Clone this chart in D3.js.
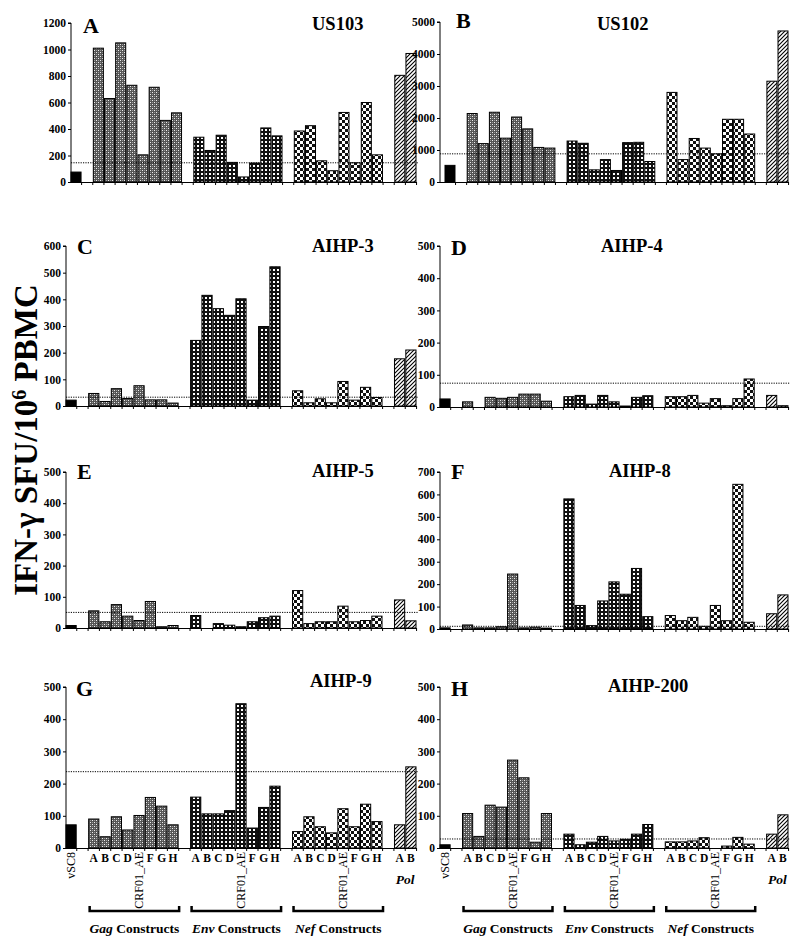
<!DOCTYPE html>
<html><head><meta charset="utf-8">
<script src="https://cdn.jsdelivr.net/npm/d3@7"></script>
<style>body{margin:0;background:#fff} svg{display:block}</style>
</head><body>
<svg id="chart" width="800" height="945"></svg>
<script>
// ---------------- DATA ----------------
const donors = ["US103","US102","AIHP-3","AIHP-4","AIHP-5","AIHP-8","AIHP-9","AIHP-200"];
const panelLetters = ["A","B","C","D","E","F","G","H"];
const constructs = ["A","B","C","D","CRF01_AE","F","G","H"];
const polLabels = ["A","B"];
const groupNames = ["Gag","Env","Nef"];
const yMax = [1200,5000,600,500,500,700,500,500];
const yStep = [200,1000,100,100,100,100,100,100];
const thresholds = [145,880,33,74,50,12,237,28];
const vSC8 = [75,520,22,25,8,5,72,10];
const gag = [
  [1010,630,1050,730,205,715,465,522],
  [2140,1200,2180,1370,2030,1660,1080,1060],
  [47,17,65,28,76,23,23,11],
  [16,0,30,27,30,40,40,18],
  [55,20,75,38,24,85,4,8],
  [18,5,5,10,245,5,8,4],
  [90,35,97,56,101,157,130,72],
  [107,36,133,127,273,218,18,107]
];
const env = [
  [338,238,353,148,38,143,408,348],
  [1280,1210,380,700,360,1230,1240,640],
  [246,415,365,340,402,22,298,522],
  [32,36,9,36,16,3,30,35],
  [40,0,14,9,4,20,33,38],
  [580,105,15,125,210,155,270,55],
  [158,106,106,116,448,62,126,192],
  [43,10,18,36,22,27,43,73]
];
const nef = [
  [385,425,160,85,525,145,600,205],
  [2800,700,1360,1060,880,1960,1960,1500],
  [57,12,27,12,92,22,70,32],
  [32,32,36,12,26,4,26,87],
  [120,14,20,20,70,20,24,38],
  [60,37,52,12,105,37,645,30],
  [51,97,66,47,122,66,136,82],
  [19,19,22,32,0,6,33,12]
];
const pol = [
  [805,970],[3150,4720],[177,210],[36,4],[90,23],[68,152],[72,252],[43,103]
];

// ---------------- LAYOUT ----------------
const layout = [
  {ax:71, x0:71, x1:416, yb:182, yt:23, lx:83, ly:33, tx:312, ty:30},
  {ax:440,x0:445,x1:788, yb:182, yt:22, lx:456,ly:28, tx:597, ty:30},
  {ax:66, x0:66, x1:416, yb:406, yt:246,lx:77, ly:254,tx:312, ty:252},
  {ax:440,x0:440,x1:788, yb:407, yt:246,lx:451,ly:255,tx:601, ty:252},
  {ax:66, x0:66, x1:416, yb:628, yt:472,lx:77, ly:479,tx:312, ty:477},
  {ax:440,x0:440,x1:788, yb:629, yt:472,lx:451,ly:479,tx:609, ty:477},
  {ax:66, x0:66, x1:416, yb:848, yt:687,lx:76, ly:696,tx:310, ty:687},
  {ax:440,x0:440,x1:788, yb:848, yt:687,lx:451,ly:696,tx:608, ty:692}
];
const serif = "'Liberation Serif','Times New Roman',Times,serif";

const svg = d3.select("#chart");
const defs = svg.append("defs");

function pat(id, w, h, draw){
  const p = defs.append("pattern").attr("id",id).attr("patternUnits","userSpaceOnUse")
    .attr("width",w).attr("height",h);
  draw(p);
}
pat("pGag",4,4,p=>{
  p.append("rect").attr("width",4).attr("height",4).attr("fill","#555");
  p.append("rect").attr("x",0).attr("y",0).attr("width",1).attr("height",1).attr("fill","#eee");
  p.append("rect").attr("x",2).attr("y",2).attr("width",1).attr("height",1).attr("fill","#eee");
  p.append("rect").attr("x",2).attr("y",0).attr("width",1).attr("height",1).attr("fill","#999");
  p.append("rect").attr("x",0).attr("y",2).attr("width",1).attr("height",1).attr("fill","#999");
});
pat("pEnv",4,4,p=>{
  p.append("rect").attr("width",4).attr("height",4).attr("fill","#111");
  p.append("rect").attr("x",1).attr("y",1).attr("width",2).attr("height",2).attr("fill","#fff");
});
pat("pNef",6,6,p=>{
  p.append("rect").attr("width",6).attr("height",6).attr("fill","#fff");
  p.append("rect").attr("x",0).attr("y",0).attr("width",3).attr("height",3).attr("fill","#111");
  p.append("rect").attr("x",3).attr("y",3).attr("width",3).attr("height",3).attr("fill","#111");
});
pat("pPol",4,4,p=>{
  p.append("rect").attr("width",4).attr("height",4).attr("fill","#fff");
  p.append("path").attr("d","M0,4 L4,0 M-1,1 L1,-1 M3,5 L5,3").attr("stroke","#000").attr("stroke-width",1.1);
});
const fills = {vsc:"#000", gag:"url(#pGag)", env:"url(#pEnv)", nef:"url(#pNef)", pol:"url(#pPol)"};

const slotKeys = ["vSC8","_g1"]
  .concat(constructs.map(c=>"Gag "+c)).concat(["_g2"])
  .concat(constructs.map(c=>"Env "+c)).concat(["_g3"])
  .concat(constructs.map(c=>"Nef "+c)).concat(["_g4"])
  .concat(polLabels.map(c=>"Pol "+c));

donors.forEach((name,i)=>{
  const L = layout[i];
  const g = svg.append("g");
  const x = d3.scaleBand().domain(slotKeys).range([L.x0, L.x1]).paddingInner(0.1).paddingOuter(0);
  const y = d3.scaleLinear().domain([0,yMax[i]]).range([L.yb, L.yt]);
  const bars = [{k:"vSC8", v:vSC8[i], t:"vsc"}]
    .concat(gag[i].map((v,j)=>({k:"Gag "+constructs[j], v, t:"gag"})))
    .concat(env[i].map((v,j)=>({k:"Env "+constructs[j], v, t:"env"})))
    .concat(nef[i].map((v,j)=>({k:"Nef "+constructs[j], v, t:"nef"})))
    .concat(pol[i].map((v,j)=>({k:"Pol "+polLabels[j], v, t:"pol"})));

  g.selectAll("rect.bar").data(bars.filter(d=>d.v>0)).join("rect").attr("class","bar")
    .attr("x",d=>x(d.k)).attr("width",x.bandwidth())
    .attr("y",d=>y(d.v)).attr("height",d=>y(0)-y(d.v))
    .attr("fill",d=>fills[d.t]).attr("stroke","#000").attr("stroke-width",1);

  const ya = d3.axisLeft(y).tickValues(d3.range(0,yMax[i]+1,yStep[i])).tickSize(3).tickPadding(2).tickFormat(d3.format("d"));
  const yg = g.append("g").attr("transform",`translate(${L.ax},0)`).call(ya);
  yg.select(".domain").attr("stroke","#000").attr("d",`M-3,${y(yMax[i])}H0V${y(0)}`);
  yg.selectAll("text").attr("font-family",serif).attr("font-weight","bold").attr("font-size",11.5).attr("fill","#000");
  yg.selectAll("line").attr("stroke","#000");

  g.append("line").attr("x1",L.ax).attr("x2",L.x1+1).attr("y1",y(0)+0.5).attr("y2",y(0)+0.5).attr("stroke","#000").attr("stroke-width",1.2);
  const step = x.step();
  g.selectAll("line.xt").data(slotKeys).join("line").attr("class","xt")
    .attr("x1",d=>x(d)+x.bandwidth()+(step-x.bandwidth())/2).attr("x2",d=>x(d)+x.bandwidth()+(step-x.bandwidth())/2)
    .attr("y1",y(0)).attr("y2",y(0)+3).attr("stroke","#000");

  g.append("line").attr("x1",L.ax).attr("x2",L.x1+2).attr("y1",y(thresholds[i])).attr("y2",y(thresholds[i]))
    .attr("stroke","#000").attr("stroke-width",1).attr("stroke-dasharray","1.2,1.2");

  g.append("text").attr("x",L.lx).attr("y",L.ly).text(panelLetters[i])
    .attr("font-family",serif).attr("font-weight","bold").attr("font-size",22);
  g.append("text").attr("x",L.tx).attr("y",L.ty).text(name)
    .attr("font-family",serif).attr("font-weight","bold").attr("font-size",18.5);

  if (i >= 6) {
    const bw = x.bandwidth();
    const ly = y(0) + 14;
    g.append("text").attr("transform",`translate(${x("vSC8")+bw/2+4},${y(0)+4}) rotate(-90)`)
      .attr("text-anchor","end").attr("font-family",serif).attr("font-size",12).text("vSC8");
    groupNames.forEach((gn)=>{
      constructs.forEach(c=>{
        const k = gn+" "+c;
        if (c.length>1) {
          g.append("text").attr("transform",`translate(${x(k)+bw/2+4},${y(0)+4}) rotate(-90)`)
            .attr("text-anchor","end").attr("font-family",serif).attr("font-size",12).text(c);
        } else {
          g.append("text").attr("x",x(k)+bw/2).attr("y",ly).attr("text-anchor","middle")
            .attr("font-family",serif).attr("font-weight","bold").attr("font-size",11.5).text(c);
        }
      });
      const bx0 = x(gn+" "+constructs[0]) + 1, bx1 = x(gn+" "+constructs[constructs.length-1]) + bw + 1;
      g.append("path").attr("d",`M${bx0},${906}V${911}H${bx1}V${906}`).attr("fill","none")
        .attr("stroke","#000").attr("stroke-width",2.5);
      const t = g.append("text").attr("x",(bx0+bx1)/2).attr("y",933).attr("text-anchor","middle")
        .attr("font-family",serif).attr("font-weight","bold").attr("font-size",13.5);
      t.append("tspan").attr("font-style","italic").text(gn);
      t.append("tspan").text(" Constructs");
    });
    polLabels.forEach(c=>{
      g.append("text").attr("x",x("Pol "+c)+bw/2).attr("y",ly).attr("text-anchor","middle")
        .attr("font-family",serif).attr("font-weight","bold").attr("font-size",11.5).text(c);
    });
    g.append("text").attr("x",(x("Pol A")+x("Pol B")+bw)/2).attr("y",y(0)+36).attr("text-anchor","middle")
      .attr("font-family",serif).attr("font-weight","bold").attr("font-style","italic").attr("font-size",13.5).text("Pol");
  }
});

const yt = svg.append("text").attr("transform","translate(37,440) rotate(-90)").attr("text-anchor","middle")
  .attr("font-family",serif).attr("font-weight","bold").attr("font-size",33);
yt.append("tspan").text("IFN-γ SFU/10");
yt.append("tspan").attr("baseline-shift","super").attr("font-size",20).text("6");
yt.append("tspan").text(" PBMC");
</script>
</body></html>
